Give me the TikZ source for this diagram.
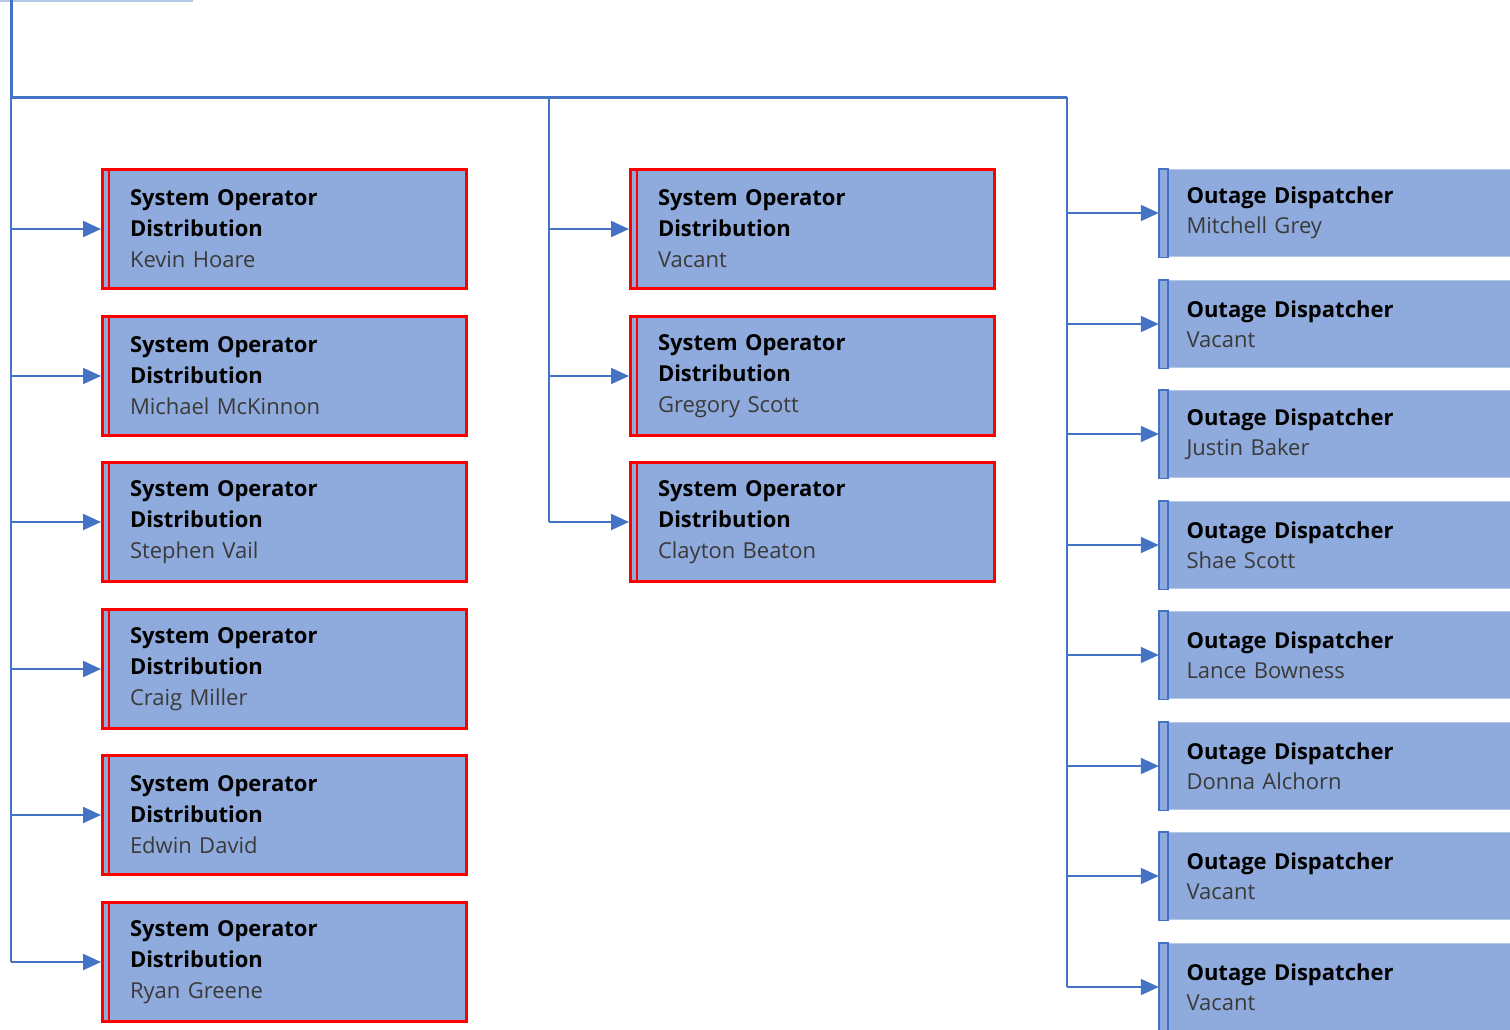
\documentclass[tikz,border=0pt]{standalone}
\usepackage{fontspec}
\setmainfont{Open Sans}
\usetikzlibrary{arrows.meta}
\usetikzlibrary{calc}
\definecolor{boxfill}{HTML}{8FAADC}
\definecolor{linkblue}{HTML}{4472C4}
\definecolor{paleblue}{HTML}{B4C7E7}
\definecolor{namegray}{HTML}{3A3A3A}
\tikzset{
	sysbox/.style={draw=red, line width=3pt, fill=boxfill, minimum width=364pt, minimum height=119pt,
		text width=309pt, inner xsep=27.5pt, align=left, font=\fontsize{22}{31}\selectfont},
	odbox/.style={draw=paleblue, line width=1.5pt, fill=boxfill, anchor=west, minimum height=87pt,
		text width=330pt, inner xsep=27pt, align=left, font=\fontsize{22}{30}\selectfont},
	link/.style={draw=linkblue, line width=2pt},
	arr/.style={link, -{Triangle[length=18pt,width=16pt]}}
}
\newcommand{\sysop}[4] % name, x, y, person
{
	\node[sysbox] (#1) at (#2,#3) {\textbf{System Operator}\\\textbf{Distribution}\\\textcolor{namegray}{#4}};
	% red stripe at the left edge
	\draw[red, line width=2.5pt] ([xshift=8pt]#1.north west) -- ([xshift=8pt]#1.south west);
}
\newcommand{\outage}[3] % name, y, person
{
	\node[odbox] (#1) at (1158.75,#2) {\textbf{Outage Dispatcher}\\\textcolor{namegray}{#3}};
	% blue stripe at the left edge
	\draw[draw=linkblue, fill=boxfill, line width=1.5pt] (#1.north west) rectangle ([xshift=9pt]#1.south west);
}

\begin{document}
\begin{tikzpicture}[x=1pt, y=1pt]
	\useasboundingbox (0,0) rectangle (1510,-1029);
	% edge of the box above
	\draw[paleblue, line width=1.5pt] (0,-0.75) -- (193,-0.75);
	
	\coordinate (top) at (11,0);
	\coordinate (bus) at (11,-97);
	\coordinate (midbus) at (549,-97);
	\coordinate (rightbus) at (1067,-97);
	
	% system operators - left column
	\sysop{soA}{284.5}{-229}{Kevin Hoare};
	\sysop{soB}{284.5}{-376}{Michael McKinnon};
	\sysop{soC}{284.5}{-522}{Stephen Vail};
	\sysop{soD}{284.5}{-669}{Craig Miller};
	\sysop{soE}{284.5}{-815}{Edwin David};
	\sysop{soF}{284.5}{-962}{Ryan Greene};
	% system operators - middle column
	\sysop{soG}{812.5}{-229}{Vacant};
	\sysop{soH}{812.5}{-376}{Gregory Scott};
	\sysop{soI}{812.5}{-522}{Clayton Beaton};
	
	% outage dispatchers
	\outage{odA}{-213}{Mitchell Grey};
	\outage{odB}{-324}{Vacant};
	\outage{odC}{-434}{Justin Baker};
	\outage{odD}{-545}{Shae Scott};
	\outage{odE}{-655}{Lance Bowness};
	\outage{odF}{-766}{Donna Alchorn};
	\outage{odG}{-876}{Vacant};
	\outage{odH}{-987}{Vacant};
	
	% trunk and bus
	\draw[link, line width=3pt] (top) -- (bus) -- (rightbus);
	\draw[link] (bus) -- (top |- soF.west);
	\draw[link] (midbus) -- (midbus |- soI.west);
	\draw[link] (rightbus) -- (rightbus |- odH.west);
	
	% arrows - left
	\draw[arr] (top |- soA.west) -- (soA.west);
	\draw[arr] (top |- soB.west) -- (soB.west);
	\draw[arr] (top |- soC.west) -- (soC.west);
	\draw[arr] (top |- soD.west) -- (soD.west);
	\draw[arr] (top |- soE.west) -- (soE.west);
	\draw[arr] (top |- soF.west) -- (soF.west);
	% arrows - middle
	\draw[arr] (midbus |- soG.west) -- (soG.west);
	\draw[arr] (midbus |- soH.west) -- (soH.west);
	\draw[arr] (midbus |- soI.west) -- (soI.west);
	% arrows - right
	\draw[arr] (rightbus |- odA.west) -- (odA.west);
	\draw[arr] (rightbus |- odB.west) -- (odB.west);
	\draw[arr] (rightbus |- odC.west) -- (odC.west);
	\draw[arr] (rightbus |- odD.west) -- (odD.west);
	\draw[arr] (rightbus |- odE.west) -- (odE.west);
	\draw[arr] (rightbus |- odF.west) -- (odF.west);
	\draw[arr] (rightbus |- odG.west) -- (odG.west);
	\draw[arr] (rightbus |- odH.west) -- (odH.west);
\end{tikzpicture}
\end{document}
